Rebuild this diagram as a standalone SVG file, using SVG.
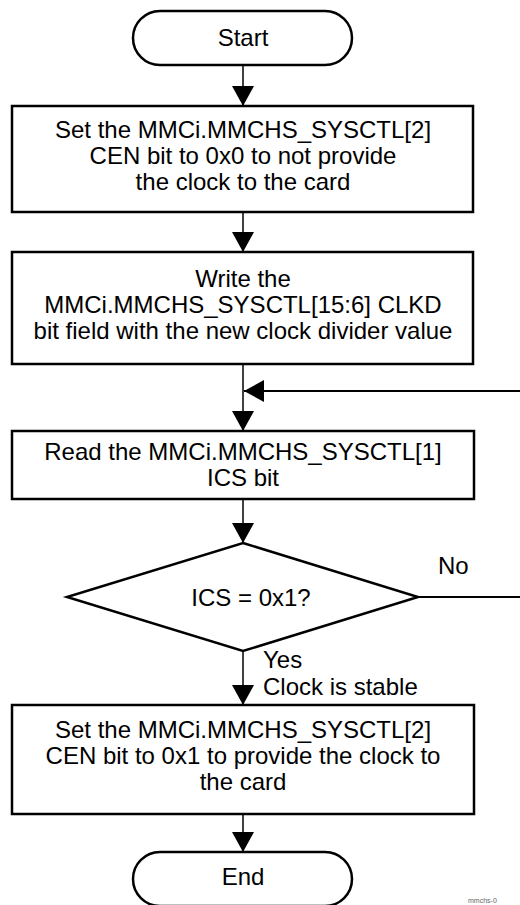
<svg xmlns="http://www.w3.org/2000/svg" width="520" height="905" viewBox="0 0 520 905">
<style>
.box{fill:#fff;stroke:#000;stroke-width:2.5}
.t{font-family:"Liberation Sans",Arial,sans-serif;font-size:24px;fill:#000;text-anchor:middle}
.l{font-family:"Liberation Sans",Arial,sans-serif;font-size:24px;fill:#000}
.c{fill:none;stroke:#000;stroke-width:1.5}
</style>
<defs>
<marker id="ah" viewBox="0 0 20 22" refX="20" refY="11" markerWidth="20" markerHeight="22" markerUnits="userSpaceOnUse" orient="auto">
<path d="M0,0 L20,11 L0,22 z" fill="#000"/>
</marker>
</defs>
<g id="connectors">
<line class="c" x1="243" y1="65" x2="243" y2="106" marker-end="url(#ah)"/>
<line class="c" x1="243" y1="212" x2="243" y2="252" marker-end="url(#ah)"/>
<line class="c" x1="243" y1="364" x2="243" y2="431" marker-end="url(#ah)"/>
<line class="c" x1="243" y1="499" x2="243" y2="543" marker-end="url(#ah)"/>
<line class="c" x1="243" y1="651" x2="243" y2="705" marker-end="url(#ah)"/>
<line class="c" x1="243" y1="814" x2="243" y2="852" marker-end="url(#ah)"/>
<path class="c" style="stroke-width:2" d="M418,597 H523 V391 H244" marker-end="url(#ah)"/>
<text class="l" x="438" y="574">No</text>
<text class="l" x="263" y="668">Yes</text>
<text class="l" x="263" y="695">Clock is stable</text>
</g>
<g id="start">
<rect class="box" x="133" y="11" width="219" height="54" rx="27"/>
<text class="t" x="243" y="46">Start</text>
</g>
<g id="step1">
<rect class="box" x="12" y="106" width="461" height="106"/>
<text class="t" x="243" y="138">Set the MMCi.MMCHS_SYSCTL[2]</text>
<text class="t" x="243" y="164">CEN bit to 0x0 to not provide</text>
<text class="t" x="243" y="190">the clock to the card</text>
</g>
<g id="step2">
<rect class="box" x="12" y="252" width="461" height="112"/>
<text class="t" x="243" y="287">Write the</text>
<text class="t" x="243" y="313">MMCi.MMCHS_SYSCTL[15:6] CLKD</text>
<text class="t" x="243" y="339">bit field with the new clock divider value</text>
</g>
<g id="step3">
<rect class="box" x="12" y="431" width="462" height="68"/>
<text class="t" x="243" y="460">Read the MMCi.MMCHS_SYSCTL[1]</text>
<text class="t" x="243" y="486">ICS bit</text>
</g>
<g id="decision">
<polygon class="box" points="243,543 418,597 243,651 67,597"/>
<text class="t" x="251" y="606">ICS = 0x1?</text>
</g>
<g id="step4">
<rect class="box" x="12" y="705" width="462" height="109"/>
<text class="t" x="243" y="738">Set the MMCi.MMCHS_SYSCTL[2]</text>
<text class="t" x="243" y="764">CEN bit to 0x1 to provide the clock to</text>
<text class="t" x="243" y="790">the card</text>
</g>
<g id="end">
<rect class="box" x="133" y="852" width="219" height="54" rx="27"/>
<text class="t" x="243" y="885">End</text>
</g>
<text x="468" y="903" style="font-family:'Liberation Sans',Arial,sans-serif;font-size:7px;fill:#666">mmchs-0</text>
</svg>
